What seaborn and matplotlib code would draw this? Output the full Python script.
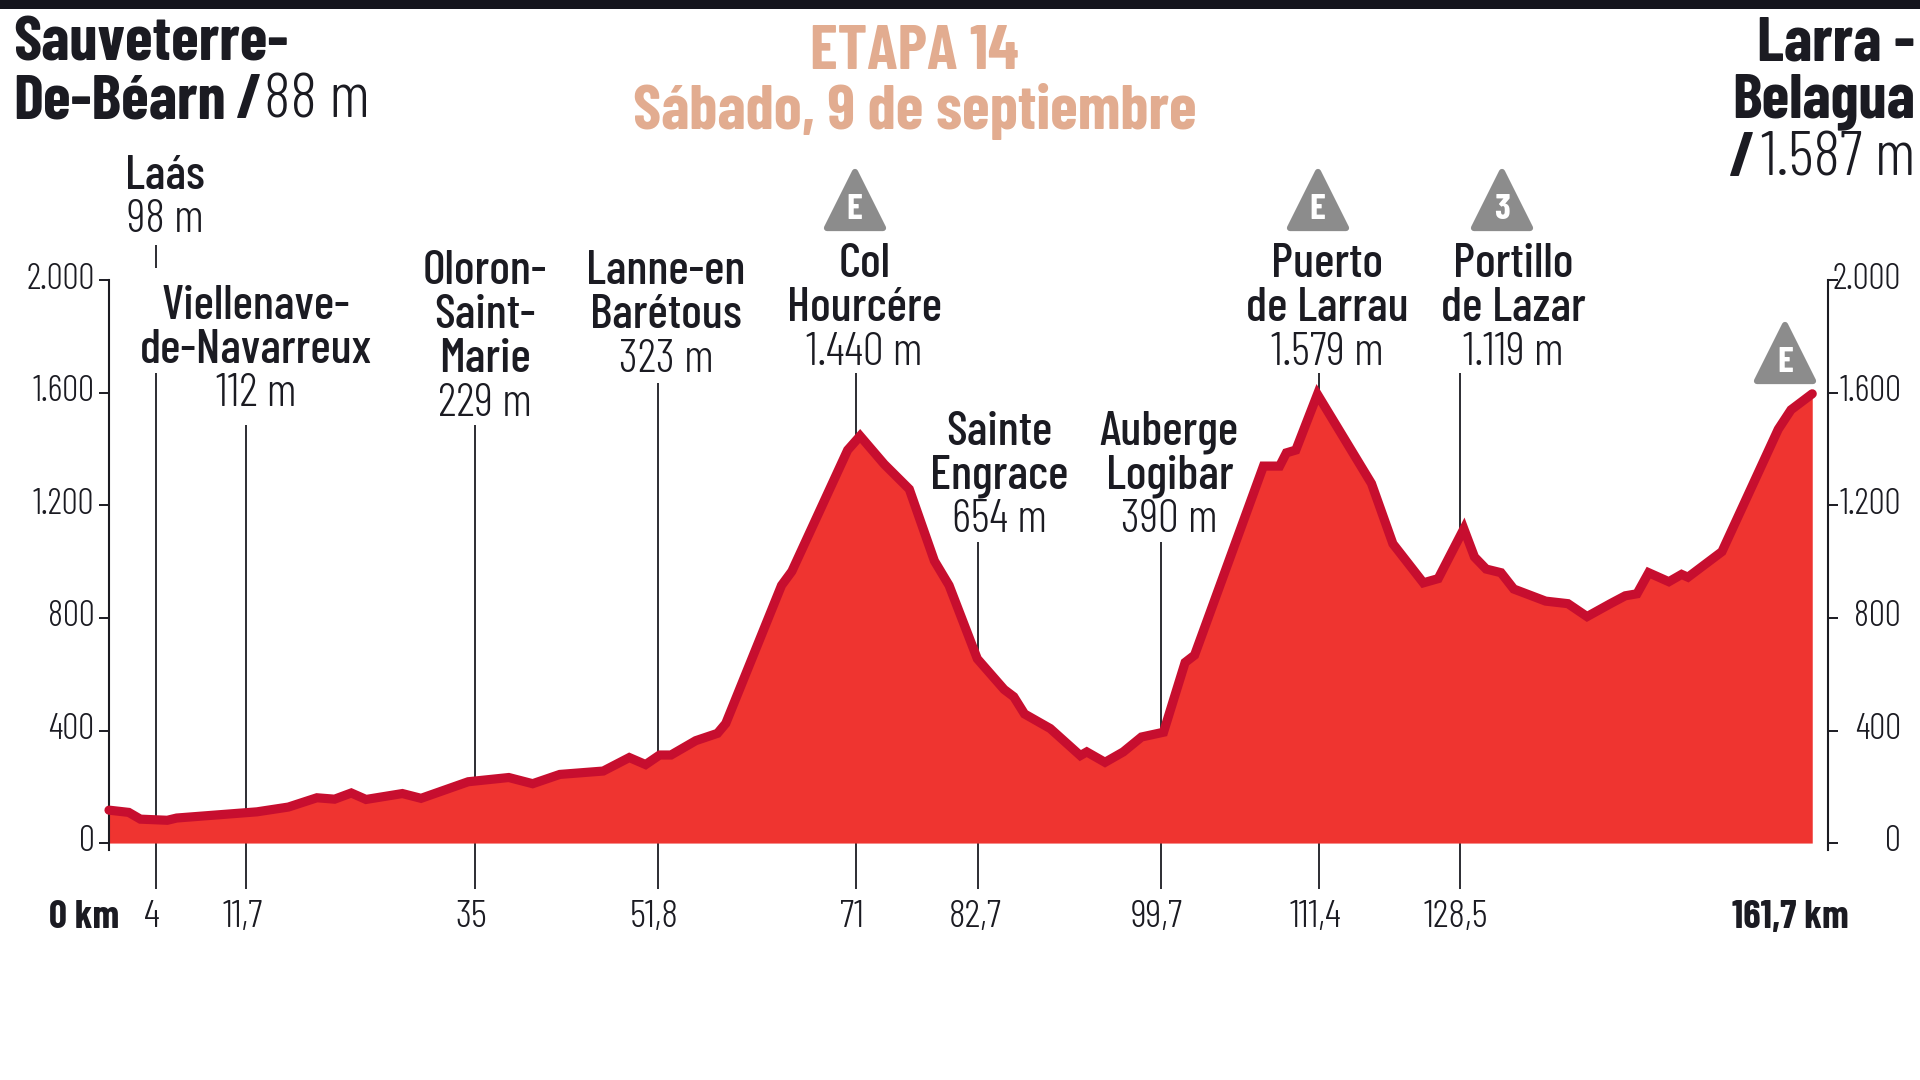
import numpy as np
import pandas as pd
import seaborn as sns
import matplotlib
matplotlib.use("Agg")
import matplotlib.pyplot as plt
from matplotlib.markers import MarkerStyle
from matplotlib.patches import Rectangle
from matplotlib.transforms import ScaledTranslation

km = [0, 1.7, 2.7, 5.0, 5.8, 12.8, 16.0, 18.9, 20.7, 22.4, 23.9, 27.6, 29.5, 34.3, 38.1, 40.3, 42.8, 46.8,
      49.2, 50.7, 52.0, 53.1, 55.5, 57.6, 58.4, 63.8, 64.8, 70.2, 71.4, 73.7, 76.1, 78.5, 79.9, 82.6, 85.1,
      86.0, 87.0, 89.4, 92.2, 92.8, 94.5, 96.2, 97.9, 99.9, 101.5, 102.2, 107.3, 108.5, 109.0, 109.7, 111.3,
      117.8, 120.4, 124.1, 125.9, 128.9, 129.9, 131.0, 132.4, 133.6, 136.6, 138.7, 140.5, 142.7, 144.1,
      145.2, 146.3, 148.2, 149.4, 150.0, 153.2, 158.5, 159.7, 161.7]
elevation = [117, 109, 85, 81, 89, 111, 128, 161, 156, 178, 155, 176, 159, 218, 233, 211, 244, 256,
             304, 279, 313, 313, 364, 390, 425, 916, 966, 1397, 1447, 1347, 1258, 1003, 916, 655, 546,
             520, 459, 407, 311, 324, 287, 324, 377, 394, 642, 668, 1340, 1340, 1387, 1397, 1595,
             1278, 1064, 925, 940, 1117, 1017, 974, 961, 903, 860, 851, 805, 851, 879,
             886, 961, 929, 955, 945, 1036, 1471, 1540, 1597]

tick_km = [0, 4, 11.7, 35, 51.8, 71, 82.7, 99.7, 111.4, 128.5, 161.7]
tick_labels = ["0 km", "4", "11,7", "35", "51,8", "71", "82,7", "99,7", "111,4", "128,5", "161,7 km"]
# the printed profile is not to scale in distance: where each labelled km sits along it
tick_place = [89, 127, 201, 388, 537, 699, 799, 948, 1077, 1192, 1480]

leader_km = [4, 11.7, 35, 51.8, 71, 82.7, 99.7, 111.4, 128.5]
leader_top = [1670, 1487, 1487, 1635, 1670, 1069, 1069, 1670, 1670]
y_ticks = [0, 400, 800, 1200, 1600, 2000]
y_labels = ["0", "400", "800", "1.200", "1.600", "2.000"]

COND = ["Barlow Condensed", "Roboto Condensed", "Roboto", "DejaVu Sans"]
INK = "#1b1b22"
FILL = "#EF3430"
LINE = "#C70E2F"
GREY = "#8C8C8C"
TITLE = "#E2AC90"
AXIS_SIZE = 28.5
YAXIS_SIZE = 26
LABEL_SIZE = 35
VALUE_SIZE = 33.5
HEAD_SIZE = 45.5
LIGHT = 300

sns.set_theme(style="white")
plt.rcParams["font.family"] = COND
plt.rcParams["axes.edgecolor"] = INK

S = 1920 / 1568
fig = plt.figure(figsize=(19.2, 10.8), dpi=100, facecolor="white")
ax = fig.add_axes([89 * S / 1920, 1 - 688.5 * S / 1080, (1480 - 89) * S / 1920, (688.5 - 229) * S / 1080])


def fx(x):
    return x * S / 1920


def fy(y):
    return 1 - y * S / 1080


forward = lambda v: np.interp(v, tick_km, tick_place)
inverse = lambda v: np.interp(v, tick_place, tick_km)

df = pd.DataFrame({"km": km, "m": elevation})
ax.set_xscale("function", functions=(forward, inverse))
ax.vlines(leader_km, -163, leader_top, color=INK, lw=1.3, clip_on=False, zorder=1)
ax.vlines([4], 2044, 2127, color=INK, lw=1.3, clip_on=False, zorder=1)
ax.fill_between(df["km"], 0, df["m"], color=FILL, lw=0, zorder=2)
sns.lineplot(data=df, x="km", y="m", ax=ax, color=LINE, lw=6.6, estimator=None, sort=False,
             clip_on=False, zorder=3, solid_capstyle="round", solid_joinstyle="miter")
ax.set_xlim(0, 161.7)
ax.set_ylim(0, 2000)
ax.set_xlabel("")
ax.set_ylabel("")
ax.grid(False)
ax.tick_params(axis="x", length=0, pad=41)
ax.tick_params(axis="y", left=True, length=7.5, width=1.4, color=INK, pad=3)
ax.set_xticks(tick_km)
ax.set_xticklabels(tick_labels, fontsize=AXIS_SIZE, fontweight=LIGHT, color=INK)
ax.minorticks_off()
ax.patch.set_alpha(0)
for lab, txt in zip(ax.get_xticklabels(), tick_labels):
    dx = -2.6
    if txt == "0 km":
        lab.set_fontweight("bold")
        dx = -18
    if txt == "161,7 km":
        lab.set_fontweight("bold")
        dx = -16
    lab.set_transform(lab.get_transform() + ScaledTranslation(dx / 72, 0, fig.dpi_scale_trans))

ax.set_yticks(y_ticks)
ax.set_yticklabels(y_labels, fontsize=YAXIS_SIZE, fontweight=LIGHT, color=INK)
up = ScaledTranslation(0, 3.5 / 72, fig.dpi_scale_trans)
for lab in ax.get_yticklabels():
    lab.set_transform(lab.get_transform() + up)
for side in ("top", "bottom", "right"):
    ax.spines[side].set_visible(False)
ax.spines["left"].set_bounds(-25, 2000)
ax.spines["left"].set_linewidth(1.5)

ax2 = ax.twinx()
ax2.set_ylim(0, 2000)
ax2.tick_params(axis="y", right=True, length=7.5, width=1.4, color=INK, pad=45, labelsize=YAXIS_SIZE)
ax2.set_yticks(y_ticks)
ax2.set_yticklabels(y_labels)
ax2.grid(False)
for side in ("top", "bottom", "left"):
    ax2.spines[side].set_visible(False)
ax2.spines["right"].set_position(("outward", 11.5))
ax2.spines["right"].set_bounds(-25, 2000)
ax2.spines["right"].set_linewidth(1.5)
for lab in ax2.get_yticklabels():
    lab.set_fontsize(YAXIS_SIZE)
    lab.set_fontweight(LIGHT)
    lab.set_color(INK)
    lab.set_horizontalalignment("right")
    lab.set_transform(lab.get_transform() + up)

fig.patches.append(Rectangle((0, 1 - 9 / 1080), 1, 9 / 1080, transform=fig.transFigure, color="#15151d", lw=0))


def put(x, y, s, size=33, weight="normal", color=INK, ha="center"):
    return fig.text(fx(x), fy(y + 3), s, fontsize=size, fontweight=weight, color=color, ha=ha, va="center")


# header
put(11, 33, "Sauveterre-", HEAD_SIZE, "bold", ha="left")
put(11, 80, "De-Béarn", HEAD_SIZE, "bold", ha="left")
put(193, 80, "/", HEAD_SIZE, "bold", ha="left")
put(216, 80, "88 m", HEAD_SIZE, LIGHT, ha="left")
put(1564, 33, "Larra -", HEAD_SIZE, "bold", ha="right")
put(1564, 80, "Belagua", HEAD_SIZE, "bold", ha="right")
put(1564, 127, "1.587 m", HEAD_SIZE, LIGHT, ha="right")
put(1412, 127, "/", HEAD_SIZE, "bold", ha="left")
put(747, 40, "ETAPA 14", HEAD_SIZE, "bold", TITLE)
put(747, 88, "Sábado, 9 de septiembre", HEAD_SIZE, "bold", TITLE)

# places
places = [
    (135, 141, 36, ["Laás"], "98 m"),
    (209, 247, 36, ["Viellenave-", "de-Navarreux"], "112 m"),
    (396, 219, 36, ["Oloron-", "Saint-", "Marie"], "229 m"),
    (544, 219, 36, ["Lanne-en", "Barétous"], "323 m"),
    (706, 213, 36, ["Col", "Hourcére"], "1.440 m"),
    (816, 350, 36, ["Sainte", "Engrace"], "654 m"),
    (955, 350, 36, ["Auberge", "Logibar"], "390 m"),
    (1084, 213, 36, ["Puerto", "de Larrau"], "1.579 m"),
    (1236, 213, 36, ["Portillo", "de Lazar"], "1.119 m"),
]
for x, y, step, names, height in places:
    for i, name in enumerate(names):
        put(x, y + i * step, name, LABEL_SIZE, 500)
    put(x, y + len(names) * step, height, VALUE_SIZE, LIGHT)

# climb category badges
badges = [(698, 163.5, "E"), (1076, 163.5, "E"), (1227, 163.5, "3"), (1458, 288.5, "E")]
marker = MarkerStyle("^", joinstyle="round")
for x, y, cat in badges:
    ax.plot([fx(x)], [fy(y)], marker=marker, ms=40, color=GREY, mec=GREY, mew=4.5, ls="none",
            transform=fig.transFigure, clip_on=False, zorder=5)
    t = put(x, y + 5, cat, 26, "bold", "white")
    t.set_zorder(6)

fig.savefig("out.png", dpi=100)
